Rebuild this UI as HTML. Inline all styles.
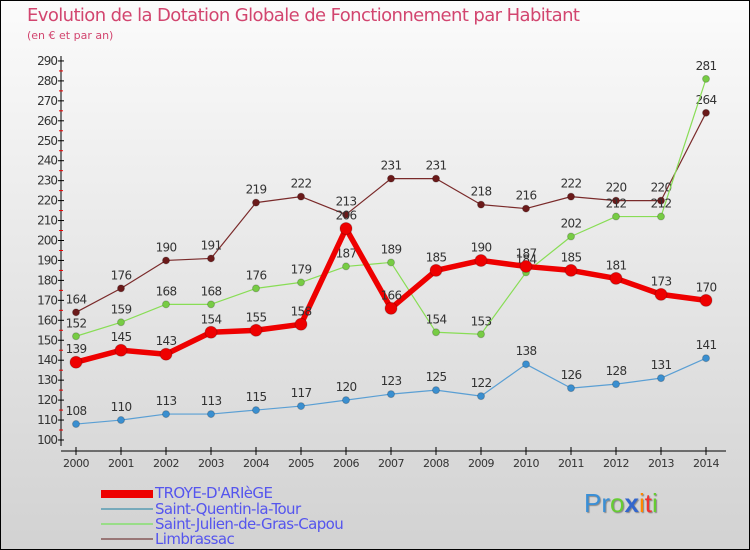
<!DOCTYPE html>
<html><head><meta charset="utf-8"><style>
body{margin:0}
#wrap{position:relative;width:748px;height:548px;border:1px solid #000;background:linear-gradient(#fbfbfb,#d2d2d2);font-family:"DejaVu Sans","Liberation Sans",sans-serif;overflow:hidden}
.t{position:absolute;left:26px;top:4px;font-size:18px;color:#d2456f;letter-spacing:-0.6px}
.s{position:absolute;left:26px;top:28px;font-size:11px;color:#d2456f}
.leg{position:absolute;left:100px;font-size:15px;color:#5555ee;letter-spacing:-0.6px;line-height:16px}
.sw{position:absolute;left:100px;width:52px}
</style></head><body>
<div id="wrap">
<div class="t">Evolution de la Dotation Globale de Fonctionnement par Habitant</div>
<div class="s">(en € et par an)</div>
<svg id="svg" width="748" height="470" style="position:absolute;left:0;top:0"></svg>
<div class="sw" style="top:489px;height:8px;background:#e00"></div>
<div class="leg" style="left:154px;top:484px">TROYE-D'ARIèGE</div>
<div class="sw" style="top:507px;height:2px;background:#7ab"></div>
<div class="leg" style="left:154px;top:500px">Saint-Quentin-la-Tour</div>
<div class="sw" style="top:522px;height:2px;background:#9d8"></div>
<div class="leg" style="left:154px;top:515px">Saint-Julien-de-Gras-Capou</div>
<div class="sw" style="top:537px;height:2px;background:#977"></div>
<div class="leg" style="left:154px;top:530px">Limbrassac</div>
<div style="position:absolute;left:583px;top:487px;font-size:26px;font-family:'Liberation Sans',sans-serif;text-shadow:1px 1px 1px #888"><span style="color:#3a8fd6">Pr</span><span style="color:#6c3">o</span><span style="color:#36c;font-weight:bold">x</span><span style="color:#f80">i</span><span style="color:#e33">t</span><span style="color:#6c3">i</span></div>
</div>
<script>
const years=[2000,2001,2002,2003,2004,2005,2006,2007,2008,2009,2010,2011,2012,2013,2014];
const troye=[139,145,143,154,155,158,206,166,185,190,187,185,181,173,170];
const quentin=[108,110,113,113,115,117,120,123,125,122,138,126,128,131,141];
const julien=[152,159,168,168,176,179,187,189,154,153,184,202,212,212,281];
const limb=[164,176,190,191,219,222,213,231,231,218,216,222,220,220,264];
const yTicks=[100,110,120,130,140,150,160,170,180,190,200,210,220,230,240,250,260,270,280,290];
const NS="http://www.w3.org/2000/svg",svg=document.getElementById('svg');
const X=i=>75+i*45, Y=v=>439-(v-100)*1.995;
function mk(t,a,p){const e=document.createElementNS(NS,t);for(const k in a)e.setAttribute(k,a[k]);(p||svg).appendChild(e);return e;}
let ax=mk('line',{x1:60,y1:55,x2:60,y2:445,stroke:'#000'});

let bx=mk('line',{x1:60,y1:450,x2:725,y2:450,stroke:'#000'});

yTicks.forEach(v=>{
 mk('line',{x1:57,y1:Y(v),x2:63,y2:Y(v),stroke:'#000'});
 if(v<290)mk('line',{x1:58,y1:Y(v+5),x2:62,y2:Y(v+5),stroke:'#e00'});
 const t=mk('text',{x:56,y:Y(v)+4,'text-anchor':'end','font-size':12,fill:'#333','letter-spacing':'-1'});t.textContent=v;
 
});
years.forEach((y,i)=>{
 mk('line',{x1:X(i),y1:446,x2:X(i),y2:454,stroke:'#000'});
 const t=mk('text',{x:X(i),y:466,'text-anchor':'middle','font-size':11,fill:'#333','letter-spacing':'-0.5'});t.textContent=y;
 
});
function series(d,col,w,r,name,dotCol){
 const g=mk('g',{});
 mk('polyline',{points:d.map((v,i)=>X(i)+','+Y(v)).join(' '),fill:'none',stroke:col,'stroke-width':w,'stroke-linejoin':'round'},g);
 d.forEach((v,i)=>{
  const c=mk('circle',{cx:X(i),cy:Y(v),r:r,fill:dotCol,stroke:'#0003'},g);
  
  const t=mk('text',{x:X(i),y:Y(v)-9,'text-anchor':'middle','font-size':12,fill:'#333','letter-spacing':'-0.7'},g);t.textContent=v;
 });
}
series(quentin,'#5a9fd4',1.2,3.5,'saint-quentin','#3a8fd0');
series(limb,'#7a2a2a',1.2,3.5,'limbrassac','#6b1a1a');
series(julien,'#88dd55',1.2,3.5,'saint-julien','#77cc44');
series(troye,'#ee0000',5.5,6,'troye','#ee0000');
</script>
</body></html>
